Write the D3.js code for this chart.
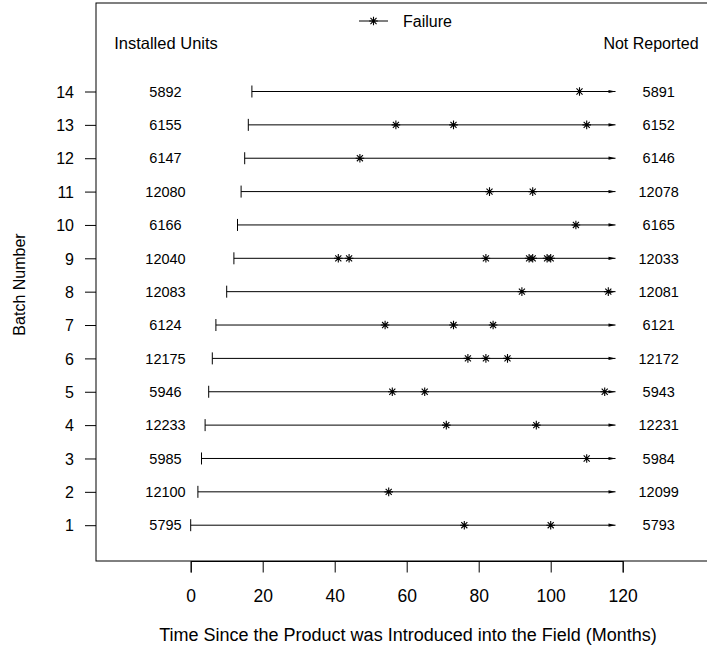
<!DOCTYPE html>
<html>
<head>
<meta charset="utf-8">
<script src="https://cdn.jsdelivr.net/npm/d3@7"></script>
<style>
  html, body { margin: 0; padding: 0; background: #fff; }
  svg { display: block; font-family: "Liberation Sans", Arial, Helvetica, sans-serif; }
</style>
</head>
<body>
<svg id="chart" width="707" height="652"></svg>
<script>
// Field batches: entry month, installed units, units not reported, failure months
const batches = [1, 2, 3, 4, 5, 6, 7, 8, 9, 10, 11, 12, 13, 14];
const startMonth = [0, 2, 3, 4, 5, 6, 7, 10, 12, 13, 14, 15, 16, 17];
const installedUnits = [5795, 12100, 5985, 12233, 5946, 12175, 6124, 12083, 12040, 6166, 12080, 6147, 6155, 5892];
const notReported = [5793, 12099, 5984, 12231, 5943, 12172, 6121, 12081, 12033, 6165, 12078, 6146, 6152, 5891];
const failureMonths = [
  [76, 100],
  [55],
  [110],
  [71, 96],
  [56, 65, 115],
  [77, 82, 88],
  [54, 73, 84],
  [92, 116],
  [41, 44, 82, 94, 95, 99, 100],
  [107],
  [83, 95],
  [47],
  [57, 73, 110],
  [108]
];
const endMonth = 118;
const xTicks = [0, 20, 40, 60, 80, 100, 120];
const installedLabelMonth = -7;
const reportedLabelMonth = 130;

const svg = d3.select("#chart");
const x = d3.scaleLinear().domain([0, 120]).range([190.7, 622.7]);
const y = d3.scaleLinear().domain([1, 14]).range([525.2, 91.5]);

const box = { left: 96, top: 3, right: 730, bottom: 561 };
const ink = "#000";

// plot frame
svg.append("rect")
  .attr("x", box.left).attr("y", box.top)
  .attr("width", box.right - box.left).attr("height", box.bottom - box.top)
  .attr("fill", "none").attr("stroke", ink).attr("stroke-width", 1);

// asterisk marker (plus + cross)
function star(g, cx, cy, r) {
  const d = r * 0.7071;
  const p = `M${cx - r},${cy}L${cx + r},${cy}M${cx},${cy - r}L${cx},${cy + r}` +
            `M${cx - d},${cy - d}L${cx + d},${cy + d}M${cx - d},${cy + d}L${cx + d},${cy - d}`;
  g.append("path").attr("d", p).attr("stroke", ink).attr("stroke-width", 1.1).attr("fill", "none");
}

// x axis
const xAxis = d3.axisBottom(x).tickValues(xTicks).tickSize(11.5).tickPadding(0).tickFormat(d3.format("d"));
const gx = svg.append("g").attr("transform", `translate(0,${box.bottom})`).call(xAxis);
gx.select(".domain").attr("stroke", ink);
gx.selectAll(".tick line").attr("stroke", ink);
gx.selectAll(".tick text").attr("font-size", 17.5).attr("fill", ink)
  .attr("y", 41).attr("dy", 0).attr("font-family", "Liberation Sans, Arial, sans-serif");

// y axis
const yAxis = d3.axisLeft(y).tickValues(batches).tickSize(11).tickPadding(0).tickFormat(d3.format("d"));
const gy = svg.append("g").attr("transform", `translate(${box.left},0)`).call(yAxis);
gy.select(".domain").remove();
gy.selectAll(".tick line").attr("stroke", ink);
gy.selectAll(".tick text").attr("font-size", 16).attr("fill", ink)
  .attr("x", -22).attr("dy", "0.36em").attr("font-family", "Liberation Sans, Arial, sans-serif");

// axis titles
svg.append("text").attr("x", 408).attr("y", 641).attr("text-anchor", "middle")
  .attr("font-size", 18).attr("fill", ink)
  .text("Time Since the Product was Introduced into the Field (Months)");
svg.append("text").attr("transform", "translate(25,284.5) rotate(-90)").attr("text-anchor", "middle")
  .attr("font-size", 16).attr("fill", ink).text("Batch Number");

// column headers
svg.append("text").attr("x", 166).attr("y", 48.5).attr("text-anchor", "middle")
  .attr("font-size", 16.5).attr("fill", ink).text("Installed Units");
svg.append("text").attr("x", 651).attr("y", 48.5).attr("text-anchor", "middle")
  .attr("font-size", 16).attr("fill", ink).text("Not Reported");

// legend
const lg = svg.append("g");
lg.append("line").attr("x1", 359).attr("x2", 388).attr("y1", 21).attr("y2", 21).attr("stroke", ink);
star(lg, 373.5, 21, 4.3);
lg.append("text").attr("x", 403).attr("y", 26.5).attr("font-size", 16).attr("fill", ink).text("Failure");

// batch timelines
const rows = svg.append("g");
batches.forEach((b, i) => {
  const cy = y(b);
  const x0 = x(startMonth[i]);
  const x1 = x(endMonth);
  rows.append("line").attr("x1", x0).attr("x2", x1).attr("y1", cy).attr("y2", cy)
    .attr("stroke", ink).attr("stroke-width", 1);
  rows.append("line").attr("x1", x0).attr("x2", x0).attr("y1", cy - 6).attr("y2", cy + 6)
    .attr("stroke", ink).attr("stroke-width", 1);
  rows.append("path").attr("d", `M${x1},${cy}L${x1 - 7},${cy - 1.6}L${x1 - 7},${cy + 1.6}Z`)
    .attr("fill", ink).attr("stroke", "none");
  failureMonths[i].forEach(m => star(rows, x(m), cy, 4.3));
  rows.append("text").attr("x", x(installedLabelMonth)).attr("y", cy).attr("dy", "0.36em")
    .attr("text-anchor", "middle").attr("font-size", 14.5).attr("fill", ink).text(installedUnits[i]);
  rows.append("text").attr("x", x(reportedLabelMonth)).attr("y", cy).attr("dy", "0.36em")
    .attr("text-anchor", "middle").attr("font-size", 14.5).attr("fill", ink).text(notReported[i]);
});
</script>
</body>
</html>
